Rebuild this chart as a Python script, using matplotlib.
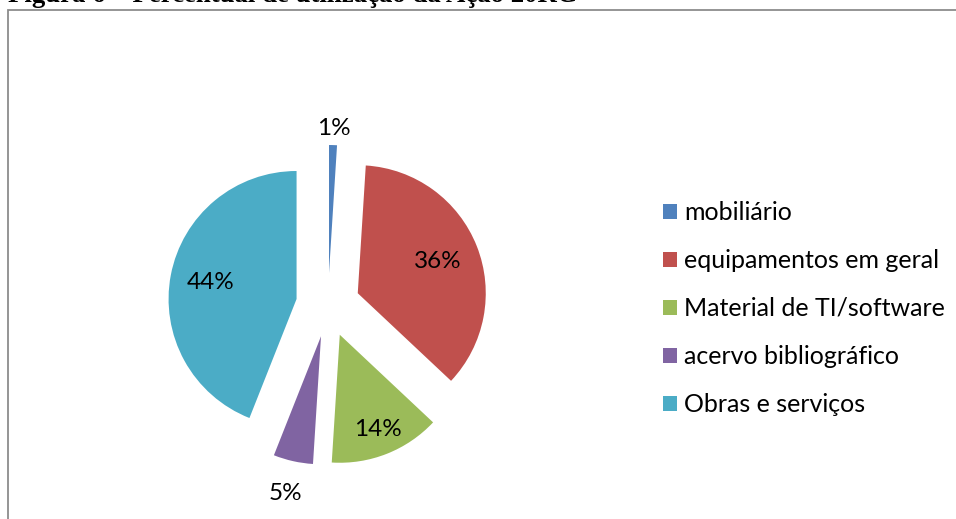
import matplotlib.pyplot as plt
from matplotlib.patches import Rectangle
import numpy as np

categories = ["mobiliário", "equipamentos em geral", "Material de TI/software",
              "acervo bibliográfico", "Obras e serviços"]
values = [1, 36, 14, 5, 44]
pct_labels = ["1%", "36%", "14%", "5%", "44%"]
colors = ["#4F81BD", "#C0504D", "#9BBB59", "#8064A2", "#4BACC6"]

W, H = 956, 519
fig = plt.figure(figsize=(W / 100, H / 100), dpi=100)

# outer chart frame (only top and left edges show in the crop)
fig.patches.append(Rectangle((8 / W, -0.1), 1.2, 1 - 10 / H + 0.1, transform=fig.transFigure,
                             fill=False, edgecolor="#8c8c8c", linewidth=1.3))

# clipped caption at very top
fig.text(8 / W, 1 - 2.5 / H, "Figura 6 – Percentual de utilização da Ação 20RG",
         family="Liberation Serif", weight="bold", fontsize=19.3, va="baseline", ha="left")

# pie axes: centre at (328, 305) px, radius 128 px
cx, cy, r = 328, 305, 128
half = 200
ax = fig.add_axes([(cx - half) / W, (H - cy - half) / H, 2 * half / W, 2 * half / H])
wedges, _ = ax.pie(values, colors=colors, startangle=90, counterclock=False,
                   explode=[0.25] * len(values), radius=1,
                   wedgeprops=dict(linewidth=0))
ax.set_xlim(-half / r, half / r)
ax.set_ylim(-half / r, half / r)
ax.set_aspect("auto")
ax.axis("off")

# label distance from each wedge apex (in radii)
dists = [1.13, 0.67, 0.80, 1.26, 0.685]
for w, lab, d in zip(wedges, pct_labels, dists):
    ang = np.deg2rad((w.theta1 + w.theta2) / 2)
    x0, y0 = w.center
    ax.text(x0 + d * np.cos(ang), y0 + d * np.sin(ang), lab, ha="center", va="center",
            family="Lato", fontsize=17.5, color="black")

leg = fig.legend(wedges, categories, loc="center left",
                 bbox_to_anchor=(663 / W, 1 - 308.5 / H), frameon=False,
                 prop=dict(family="Lato", size=18), borderpad=0, borderaxespad=0,
                 handlelength=0.56, handleheight=0.56, handletextpad=0.3,
                 labelspacing=1.0)

fig.savefig("out.png", dpi=100)
